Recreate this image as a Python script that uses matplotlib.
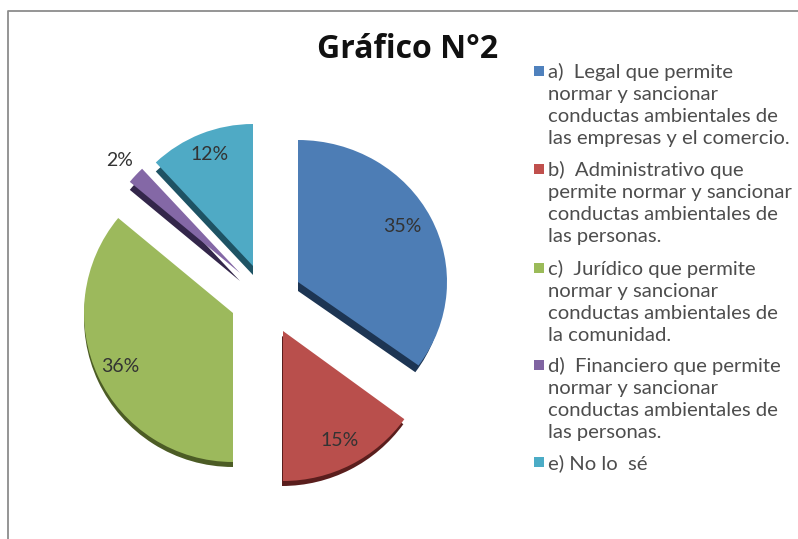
import matplotlib
matplotlib.use('Agg')
import matplotlib.pyplot as plt
from matplotlib.transforms import Affine2D

title = 'Gráfico N°2'
shares = [35, 15, 36, 2, 12]
pct_labels = ['35%', '15%', '36%', '2%', '12%']
legend_labels = [
    'a)  Legal que permite\nnormar y sancionar\nconductas ambientales de\nlas empresas y el comercio.',
    'b)  Administrativo que\npermite normar y sancionar\nconductas ambientales de\nlas personas.',
    'c)  Jurídico que permite\nnormar y sancionar\nconductas ambientales de\nla comunidad.',
    'd)  Financiero que permite\nnormar y sancionar\nconductas ambientales de\nlas personas.',
    'e) No lo  sé',
]
top_colors = ['#4d7db5', '#b94f4c', '#9cb95c', '#8468a6', '#4faac5']
side_colors = ['#1d3553', '#5a1e1d', '#4c5c25', '#33264a', '#1e5364']
legend_colors = ['#4f81bd', '#c0504d', '#9bbb59', '#8064a2', '#4bacc6']

W, H = 798, 539
# layout in image pixels, one per slice
apex = [(298, 282), (283, 331), (233, 313), (240, 273), (253, 266)]
radius = [149, 150, 149, 143, 142]
squash = [0.953, 1, 1, 1, 1]
side_radius = [145, 150, 149, 143, 142]
side_shift = [(0, 9), (-1, 5), (0, 5), (0, 8), (0, 9)]
label_pos = [(402, 226), (340, 441), (120, 366), (120, 161), (210, 154)]
legend_y = [63, 161, 260, 357, 454]

fig = plt.figure(figsize=(W / 100, H / 100), dpi=100)
ax = fig.add_axes([0, 0, 1, 1])

tops, _ = ax.pie(shares, colors=top_colors, startangle=90, counterclock=False)
sides, _ = ax.pie(shares, colors=side_colors, startangle=90, counterclock=False)
for i in range(len(shares)):
    x, y = apex[i]
    tops[i].set_center((0, 0))
    tops[i].set_radius(radius[i])
    tops[i].set_transform(Affine2D().scale(1, squash[i]).translate(x, H - y) + ax.transData)
    tops[i].set_zorder(3)
    sides[i].set_center((0, 0))
    sides[i].set_radius(side_radius[i])
    sides[i].set_transform(Affine2D().scale(1, squash[i]).translate(x + side_shift[i][0], H - y - side_shift[i][1]) + ax.transData)
    sides[i].set_zorder(2)

ax.set_aspect('auto')
ax.set_xlim(0, W)
ax.set_ylim(0, H)
ax.axis('off')

# frame, only left and top are inside the picture
ax.plot([7.5, 7.5, W], [0, H - 10.5, H - 10.5], color='#8c8c8c', lw=1.3, zorder=1)

ax.text(407.5, H - 49, title, family='Open Sans', fontweight='bold', fontsize=23,
        ha='center', va='center', color='#111111')

for i, lab in enumerate(pct_labels):
    ax.text(label_pos[i][0], H - label_pos[i][1], lab, family='Lato',
            fontsize=14, ha='center', va='center', color='#333333', zorder=5)

for i, lab in enumerate(legend_labels):
    ax.scatter(538.5, H - legend_y[i] - 8, marker='s', s=62, color=legend_colors[i],
               linewidths=0, zorder=5)
    ax.text(548, H - legend_y[i], lab, family='Lato', fontsize=14.6,
            ha='left', va='top', color='#4d4d4d', linespacing=1.36)

fig.savefig('out.png', dpi=100)
